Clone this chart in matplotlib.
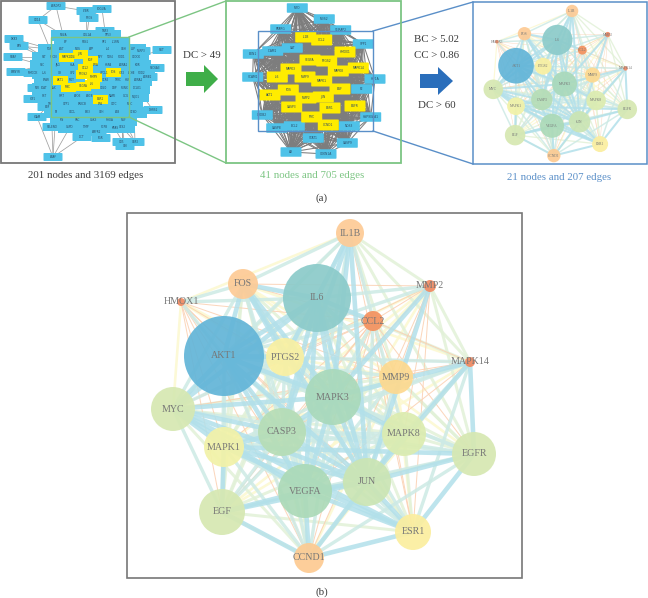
from itertools import combinations
import matplotlib
matplotlib.use("Agg")
import matplotlib.pyplot as plt
from matplotlib.patches import Rectangle, Circle, FancyArrow, FancyBboxPatch

plt.rcParams['font.family'] = ['Liberation Serif', 'DejaVu Serif']

# ---------- final 21-node network (panel b, and its small copy) ----------
HUB_NAMES = ["IL1B","FOS","IL6","HMOX1","MMP2","CCL2","AKT1","PTGS2","MAPK14","MMP9","MAPK3",
             "MYC","CASP3","MAPK1","MAPK8","EGFR","JUN","VEGFA","EGF","ESR1","CCND1"]
HUB_X = [350,243,317,181,430,373,224,285,470,396,333,173,282,224,404,474,367,305,222,413,309]
HUB_Y = [233,284,298,302,286,321,356,357,362,377,397,409,432,447,434,454,482,491,512,532,558]
HUB_R = [14,15,34,4,6,10,40,19,5,17,28,22,24,20,22,22,24,27,23,18,15]
HUB_COLORS = ["#fdcb96","#fdcb96","#8ccbca","#f28a62","#f28a62","#f4925f","#63b5d8","#f9f0a2","#f28a62",
              "#fdd98f","#a9d9bb","#d6e8b2","#b6ddb6","#f2f2a8","#dcecb0","#d6e8b2","#cbe5b4","#acdab8",
              "#d6e8b2","#fbee9f","#fdcb92"]

EDGES_THICK = ["AKT1 IL6","AKT1 FOS","AKT1 MYC","AKT1 JUN","AKT1 MAPK3","AKT1 VEGFA","AKT1 CASP3","AKT1 PTGS2",
    "IL6 FOS","IL6 PTGS2","IL6 JUN","IL6 MAPK3","IL6 IL1B","IL6 CCL2","IL6 VEGFA","IL6 CASP3","IL6 MYC",
    "VEGFA EGF","VEGFA JUN","VEGFA MAPK3","VEGFA MYC","VEGFA ESR1","VEGFA CCND1","JUN EGFR","JUN ESR1",
    "JUN MAPK3","JUN MAPK8","JUN MAPK1","JUN MYC","JUN FOS","JUN IL1B","JUN CASP3","JUN CCND1","JUN MAPK14",
    "CCND1 ESR1","MAPK1 MYC","MAPK1 CASP3","MAPK1 ESR1","MYC CASP3","MYC MAPK3","MAPK3 MAPK8","MAPK3 CASP3",
    "MAPK14 EGFR","MAPK14 MAPK3","MMP2 MAPK3","MMP2 JUN","IL1B MAPK3","IL1B CASP3","FOS MAPK3","FOS PTGS2",
    "ESR1 EGFR","ESR1 MYC","CCND1 EGF","EGF MAPK1","EGF JUN","EGFR MAPK1"]
EDGES_MID = ["IL1B FOS","IL1B AKT1","IL1B PTGS2","IL1B MAPK8","IL1B VEGFA","FOS MYC","FOS CASP3","FOS VEGFA",
    "HMOX1 AKT1","HMOX1 FOS","HMOX1 IL6","PTGS2 MAPK3","PTGS2 JUN","PTGS2 CASP3","PTGS2 VEGFA","PTGS2 MYC",
    "MAPK14 MAPK8","MAPK14 MAPK1","MAPK14 CASP3","MAPK14 AKT1","MAPK14 ESR1","MMP9 JUN","MMP9 IL6","MMP9 AKT1",
    "MMP9 VEGFA","MYC EGFR","MYC EGF","MAPK8 CASP3","MAPK8 AKT1","MAPK8 VEGFA","MAPK8 MAPK1","CASP3 VEGFA",
    "CASP3 EGF","CASP3 EGFR","CASP3 ESR1","CCND1 AKT1","CCND1 MAPK3","CCND1 MAPK1","CCND1 EGFR","CCND1 CASP3",
    "EGFR AKT1","EGFR MAPK3","EGFR VEGFA","MAPK1 AKT1","MAPK1 MAPK3","MAPK1 VEGFA","EGF AKT1","EGF MAPK3",
    "MMP2 AKT1","MMP2 IL6","ESR1 AKT1","ESR1 MAPK3","CCL2 JUN","CCL2 AKT1","CCL2 MAPK3"]
EDGES_PALE = ["IL1B MMP2","IL1B MAPK14","IL1B MYC","IL1B MMP9","IL1B EGFR","FOS MAPK8","FOS MAPK1","FOS EGF",
    "IL6 MAPK1","IL6 MAPK8","IL6 EGF","IL6 ESR1","IL6 EGFR","IL6 MAPK14","MYC MAPK8","MYC CCND1","MAPK8 EGFR",
    "MAPK8 ESR1","MAPK8 EGF","MAPK8 CCND1","MAPK8 PTGS2","MMP9 MAPK3","MMP9 CASP3","MMP9 MYC","MMP9 EGFR",
    "PTGS2 MAPK1","PTGS2 EGFR","PTGS2 EGF","PTGS2 ESR1","EGF EGFR","EGF ESR1","CCND1 PTGS2","MMP2 MAPK14","MMP2 EGFR"]
EDGES_YELLOW = ["IL1B HMOX1","FOS MMP9","FOS MAPK14","FOS EGFR","FOS ESR1","FOS CCND1","HMOX1 PTGS2","HMOX1 MYC",
    "HMOX1 MAPK3","MMP9 MAPK8","MMP9 MAPK1","MMP9 EGF","MMP9 ESR1","MMP9 PTGS2","MMP9 CCND1","MMP2 PTGS2",
    "MMP2 CASP3","MMP2 VEGFA","MMP2 MAPK1","MAPK14 EGF","MAPK14 CCND1","EGF CCND1"]
EDGES_ORANGE = ["IL1B CCL2","IL1B ESR1","FOS MMP2","FOS CCL2","HMOX1 CCL2","HMOX1 CASP3","HMOX1 MAPK1","HMOX1 EGF",
    "HMOX1 JUN","HMOX1 VEGFA","HMOX1 MMP9","HMOX1 MAPK8","HMOX1 ESR1","HMOX1 CCND1","MMP2 CCL2","MMP2 MMP9",
    "MMP2 MAPK8","MMP2 ESR1","MMP2 MYC","MMP2 EGF","MMP2 CCND1","CCL2 PTGS2","CCL2 MMP9","CCL2 MYC","CCL2 CASP3",
    "CCL2 MAPK1","CCL2 MAPK8","CCL2 EGFR","CCL2 VEGFA","CCL2 EGF","CCL2 ESR1","CCL2 CCND1","CCL2 MAPK14",
    "MAPK14 MMP9","MAPK14 MYC","MAPK14 PTGS2","MAPK14 VEGFA","AKT1 EGF","AKT1 CCND1"]
# (list, colour, width in pixels of panel b)
EDGE_LEVELS = [(EDGES_YELLOW,"#fcf8cf",2.6),(EDGES_PALE,"#e2f1d8",3.0),(EDGES_ORANGE,"#fbcfb0",1.0),
               (EDGES_MID,"#cdeae5",3.4),(EDGES_THICK,"#b2e0ea",4.6)]

# ---------- 41-node network (middle panel) ----------
MID_YELLOW = [("IL1B",305.7,37),("CCL2",321.7,40),("HMOX1",345,52),("VEGFA",310,60),("PTGS2",326.7,61),
    ("MAPK3",291,69),("MAPK8",338.3,71),("MAPK14",358.3,68),("IL6",277.3,77),("MMP9",305,77),("MAPK1",321.7,81),
    ("AKT1",270,95),("FOS",288.3,90),("MMP2",306,98),("JUN",323.3,97),("EGF",340,89),("CASP3",291.7,107),
    ("ESR1",330,108),("EGFR",355,106),("MYC",311.7,117),("CCND1",328.3,125)]
MID_BLUE = [("MPO",297.3,8),("MDS2",324.3,19),("PPARG",280.7,29),("SLIRAP2",340.7,30),("SPP1",363.3,44),
    ("EDN1",253.3,54),("ICAM1",272.7,51),("CAT",292.3,48),("VCAM1",252.7,77),("HIF1A",375,79),("F2",361.7,89),
    ("CRDB2",262.3,115),("HSP90AA1",370.7,117),("CASP8",276.7,128),("BCL2",294.3,126),("NOS3",349.3,126),
    ("STAT1",313.3,138),("CASP9",347.3,143),("AR",291,152),("CDKN1A",326,154)]

# ---------- 201-node network (left panel) ----------
LEFT_OUTER = [("ARRDP2",56,6),("CD14",38,20),("LTBR",86,11),("PDGUA",102,9),("PTGS",89,18),("TNF3",105,31),
    ("DKK3",14,39),("EPS",19,46),("SDAF",13,57),("BMNYR",16,72),("MMCCK",33,73),("NFE",37,88),("IGF1",33,99),
    ("EDF",47,107),("IGAM",37,117),("SELENO",52,127),("DCT",82,137),("ARAF",53,157),("AMFR2",97,132),("PGR",101,138),
    ("KRAS",115,128),("CRP2",135,142),("CD5",122,142),("CHI",125,146),("DHRS2",153,110),("NLRP3",141,51),
    ("SLIT",162,50),("SLC6A3",155,68),("ADRB2",148,77)]
LEFT_ROWS = [(35,[(63,"NR4A"),(87,"COL1A"),(108,"TP53")]),
    (42,[(66,"BP"),(85,"FBN1"),(104,"SP1"),(116,"IL1RN")]),
    (49,[(50,"TGF"),(62,"AGT"),(78,"NOS"),(92,"APP"),(108,"IL4"),(124,"CRH"),(133,"LEP")]),
    (57,[(44,"SLT"),(54,"SPON"),(73,"CD4"),(100,"NPY"),(110,"TLR4"),(122,"SOD1"),(136,"CLOCK")]),
    (65,[(42,"SLC"),(58,"JAG"),(72,"HLA"),(96,"PPIA"),(108,"HSPA"),(124,"ADRA1"),(138,"KDR")]),
    (73,[(44,"LL6"),(60,"GR"),(73,"GP2"),(104,"UPCL1"),(122,"IGF2"),(132,"ACHE"),(142,"SOD2")]),
    (80,[(46,"PPAR"),(72,"MET"),(106,"CCR5"),(118,"TFRC"),(128,"HGF"),(139,"ADRA2")]),
    (88,[(44,"PLAT"),(54,"BAX"),(103,"CD40"),(114,"DBP"),(125,"RUNX"),(137,"DCLK1")]),
    (96,[(44,"SST"),(62,"SIRT"),(78,"APOE"),(90,"ABCB"),(112,"NAPE"),(126,"GCG"),(136,"NQO1")]),
    (104,[(50,"TH"),(66,"CYP1"),(82,"PRKCB"),(100,"PPA"),(114,"CLTC"),(130,"MUC")]),
    (112,[(56,"F3"),(72,"CXCL"),(88,"PIK3"),(102,"CFH"),(118,"ALB"),(134,"CTSD")]),
    (120,[(62,"IFN"),(78,"SRC"),(94,"GSK3"),(110,"RHOA"),(124,"NGF")]),
    (127,[(70,"G6PD"),(86,"TIMP"),(104,"SCPB"),(122,"CES2")])]
LEFT_YELLOW = [("MAPK1",66,57),("JUN",80,54),("EGF",90,60),("CCL2",85,68),("PTGS2",83,74),("MMP9",94,77),
    ("AKT1",60,80),("MYC",68,87),("VEGFA",83,86),("IL6",92,84),("ESR1",100,99),("FOS",113,72)]
LEFT_EDGES = [("ARRDP2","LTBR"),("ARRDP2","CD14"),("ARRDP2","NR4A"),("CD14","NR4A"),("CD14","TGF"),("LTBR","PTGS"),
    ("LTBR","COL1A"),("PDGUA","PTGS"),("PDGUA","TNF3"),("PTGS","COL1A"),("TNF3","COL1A"),("DKK3","TGF"),("DKK3","SLT"),
    ("EPS","SLT"),("EPS","TGF"),("SDAF","SLT"),("SDAF","SLC"),("BMNYR","SLC"),("MMCCK","SLC"),("NFE","PLAT"),
    ("IGF1","SST"),("IGAM","TH"),("SELENO","F3"),("ARAF","SELENO"),("ARAF","IGAM"),("ARAF","DCT"),("ARAF","G6PD"),
    ("ARAF","F3"),("DCT","G6PD"),("DCT","TIMP"),("AMFR2","TIMP"),("KRAS","RHOA"),("CRP2","CES2"),("CRP2","NGF"),
    ("CRP2","CTSD"),("CD5","CES2"),("CD5","NGF"),("CHI","CES2"),("CHI","RHOA"),("DHRS2","MUC"),("DHRS2","DCLK1"),
    ("DHRS2","CTSD"),("NLRP3","CLOCK"),("NLRP3","LEP"),("SLIT","CLOCK"),("SLC6A3","KDR"),("SLC6A3","CLOCK"),
    ("ADRB2","SOD2"),("ADRB2","KDR")]

GREEN, BLUE = "#7cc583", "#5a8fc8"
CYAN, YELLOW = "#4fc2e8", "#ffec00"

fig = plt.figure(figsize=(6.48, 5.98), dpi=100)
ax = fig.add_axes([0, 0, 1, 1])
ax.set_xlim(0, 648); ax.set_ylim(598, 0); ax.axis("off")

def box(x0, y0, x1, y1, color, lw, z=1):
    ax.add_patch(Rectangle((x0, y0), x1-x0, y1-y0, fill=False, ec=color, lw=lw, zorder=z))

def tag(name, x, y, w, h, color, fs, z):
    ax.add_patch(FancyBboxPatch((x-w/2, y-h/2), w, h, boxstyle="round,pad=0,rounding_size=0.8",
                                fc=color, ec="none", zorder=z))
    ax.text(x, y, name, fontsize=fs, ha="center", va="center", color="#2b4a66",
            family="DejaVu Sans", zorder=z+0.1)

# left panel
box(0.5, 0.5, 174.5, 163, "#777777", 1.3, 8)
inner = {n: (x, y) for y, row in LEFT_ROWS for x, n in row}
outer = {n: (x, y) for n, x, y in LEFT_OUTER}
pts = {**inner, **outer}
for a, b in LEFT_EDGES:
    ax.plot([pts[a][0], pts[b][0]], [pts[a][1], pts[b][1]], color="#a0a0a0", lw=0.55, zorder=2)
for y, row in LEFT_ROWS:
    for x, n in row:
        ax.add_patch(Rectangle((x-12.5, y-5.5), 25, 11, fc=CYAN, ec="none", zorder=3))
for n, x, y in LEFT_OUTER:
    tag(n, x, y, 19, 8, CYAN, 2.0, 3.3)
for n, x, y in LEFT_YELLOW:
    ax.add_patch(Rectangle((x-7.5, y-4.5), 15, 9, fc=YELLOW, ec="none", zorder=3.6))
for y, row in LEFT_ROWS:
    for x, n in row:
        ax.text(x, y, n, fontsize=2.0, ha="center", va="center", color="#2b4a66",
                family="DejaVu Sans", zorder=3.8)
for n, x, y in LEFT_YELLOW:
    ax.text(x, y, n, fontsize=2.0, ha="center", va="center", color="#2b4a66",
            family="DejaVu Sans", zorder=3.9)
box(51, 37, 129, 117, GREEN, 1.0, 6)
for yy, y2 in [(37, 1), (117, 163)]:
    ax.plot([129, 226], [yy, y2], color=GREEN, lw=1.0, zorder=6)

# middle panel
mid_all = MID_YELLOW + MID_BLUE
for (a, ax_, ay), (b, bx, by) in combinations(mid_all, 2):
    ax.plot([ax_, bx], [ay, by], color="#7d7d7d", lw=0.75, zorder=2)
for n, x, y in MID_BLUE:
    tag(n, x, y, 21, 9.5, CYAN, 2.2, 3)
for n, x, y in MID_YELLOW:
    tag(n, x, y, 21, 11, YELLOW, 2.2, 3.5)
box(226, 1, 400.5, 163, GREEN, 1.3, 8)
box(258, 31, 373, 131, BLUE, 1.0, 6)
for yy, y2 in [(31, 2), (131, 164)]:
    ax.plot([373, 473], [yy, y2], color=BLUE, lw=1.0, zorder=6)

# panel drawing shared by the two copies of the 21-node network
def network(scale, dx, dy, fs, name_color):
    pos = {n: (dx + scale*x, dy + scale*y) for n, x, y in zip(HUB_NAMES, HUB_X, HUB_Y)}
    for edges, color, width in EDGE_LEVELS:
        for e in edges:
            a, b = e.split()
            ax.plot([pos[a][0], pos[b][0]], [pos[a][1], pos[b][1]], color=color,
                    lw=width*scale*0.72, alpha=0.85, solid_capstyle="butt", zorder=2)
    for n, r, c in zip(HUB_NAMES, HUB_R, HUB_COLORS):
        ax.add_patch(Circle(pos[n], r*scale, fc=c, ec="none", alpha=0.93, zorder=3))
        ax.text(*pos[n], n, fontsize=fs, ha="center", va="center", color=name_color, zorder=4)

box(473, 2, 647, 164, BLUE, 1.1, 6)
network(0.445, 516-0.445*224, 11-0.445*233, 2.6, "#777777")

box(127, 213, 522, 578, "#777777", 1.2, 6)
network(1.0, 0, 0, 7.2, "#777777")

# arrows
ax.add_patch(FancyArrow(186, 79, 32, 0, width=14, head_width=28, head_length=14,
                        length_includes_head=True, fc="#3fae49", ec="none", zorder=5))
ax.add_patch(FancyArrow(420, 81, 33, 0, width=14, head_width=28, head_length=15,
                        length_includes_head=True, fc="#2a6ebb", ec="none", zorder=5))

# text
T = "#3a3a3a"
for s, x, y, c in [("201 nodes and 3169 edges", 86, 175, T), ("41 nodes and 705 edges", 312, 175, GREEN),
                   ("21 nodes and 207 edges", 559, 177, BLUE), ("DC > 49", 202, 56, T),
                   ("BC > 5.02", 437, 39, T), ("CC > 0.86", 437, 56, T), ("DC > 60", 437, 106, T),
                   ("(a)", 322, 198, T), ("(b)", 322, 592, T)]:
    ax.text(x, y, s, fontsize=7.8, ha="center", va="center", color=c, zorder=7)

fig.savefig("out.png", dpi=100)
